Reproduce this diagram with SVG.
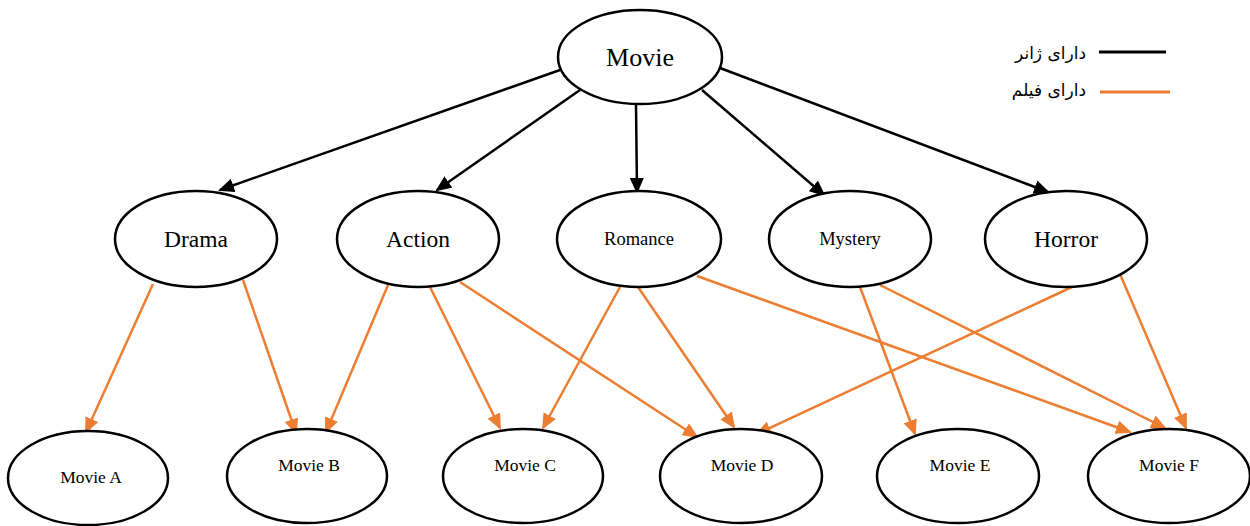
<svg xmlns="http://www.w3.org/2000/svg" width="1250" height="526" viewBox="0 0 1250 526">
<style>
.node ellipse{fill:#fff;stroke:#000;stroke-width:2.5}
.node text{font-family:"Liberation Serif",serif;text-anchor:middle;fill:#000}
.big{font-size:23.5px}
.sm{font-size:18.5px}
.mv{font-size:17.5px}
.blk{stroke:#000;stroke-width:2.5;fill:none}
.org{stroke:#ED7D31;stroke-width:2.5;fill:none}
.leg{font-family:"DejaVu Sans",sans-serif;font-size:17px;text-anchor:end;fill:#000}
</style>
<defs>
<marker id="ab" markerUnits="userSpaceOnUse" markerWidth="16" markerHeight="14" refX="14" refY="7" orient="auto"><path d="M0,0 L16,7 L0,14 Z" fill="#000"/></marker>
<marker id="ao" markerUnits="userSpaceOnUse" markerWidth="16" markerHeight="14" refX="14" refY="7" orient="auto"><path d="M0,0 L16,7 L0,14 Z" fill="#ED7D31"/></marker>
</defs>
<rect width="1250" height="526" fill="#fff"/>
<g id="connectors">
<line class="blk" x1="560" y1="70" x2="220" y2="190" marker-end="url(#ab)"/>
<line class="blk" x1="580" y1="90" x2="437" y2="190" marker-end="url(#ab)"/>
<line class="blk" x1="636" y1="105" x2="637" y2="192" marker-end="url(#ab)"/>
<line class="blk" x1="702" y1="90" x2="824" y2="195" marker-end="url(#ab)"/>
<line class="blk" x1="720" y1="68" x2="1048" y2="192" marker-end="url(#ab)"/>
<line class="org" x1="153" y1="284" x2="86" y2="432" marker-end="url(#ao)"/>
<line class="org" x1="243" y1="280" x2="296" y2="433" marker-end="url(#ao)"/>
<line class="org" x1="388" y1="285" x2="326" y2="432" marker-end="url(#ao)"/>
<line class="org" x1="430" y1="287" x2="500" y2="428" marker-end="url(#ao)"/>
<line class="org" x1="460" y1="282" x2="697" y2="437" marker-end="url(#ao)"/>
<line class="org" x1="620" y1="287" x2="543" y2="428" marker-end="url(#ao)"/>
<line class="org" x1="638" y1="287" x2="734" y2="427" marker-end="url(#ao)"/>
<line class="org" x1="697" y1="276" x2="1130" y2="432" marker-end="url(#ao)"/>
<line class="org" x1="860" y1="287" x2="915" y2="434" marker-end="url(#ao)"/>
<line class="org" x1="880" y1="285" x2="1165" y2="428" marker-end="url(#ao)"/>
<line class="org" x1="1072" y1="287" x2="757" y2="434" marker-end="url(#ao)"/>
<line class="org" x1="1120" y1="274" x2="1186" y2="428" marker-end="url(#ao)"/>
</g>
<g id="legend">
<text class="leg" x="1086" y="59">دارای ژانر</text>
<line x1="1099" y1="52" x2="1166" y2="52" stroke="#000" stroke-width="3"/>
<text class="leg" x="1086" y="96">دارای فیلم</text>
<line x1="1100" y1="92" x2="1170" y2="92" stroke="#ED7D31" stroke-width="3"/>
</g>
<g id="movie" class="node"><ellipse cx="640" cy="57" rx="82" ry="47"/><text x="640" y="66" font-size="26">Movie</text></g>
<g id="drama" class="node"><ellipse cx="196" cy="239" rx="81" ry="48"/><text class="big" x="196" y="247">Drama</text></g>
<g id="action" class="node"><ellipse cx="418" cy="239" rx="81" ry="48"/><text class="big" x="418" y="247">Action</text></g>
<g id="romance" class="node"><ellipse cx="639" cy="239" rx="82" ry="48"/><text class="sm" x="639" y="245">Romance</text></g>
<g id="mystery" class="node"><ellipse cx="850" cy="239" rx="81" ry="48"/><text class="sm" x="850" y="245">Mystery</text></g>
<g id="horror" class="node"><ellipse cx="1066" cy="239" rx="81" ry="48"/><text class="big" x="1066" y="247">Horror</text></g>
<g id="movieA" class="node"><ellipse cx="88" cy="478" rx="80" ry="47"/><text class="mv" x="91" y="483">Movie A</text></g>
<g id="movieB" class="node"><ellipse cx="307" cy="476" rx="80" ry="47"/><text class="mv" x="309" y="471">Movie B</text></g>
<g id="movieC" class="node"><ellipse cx="523" cy="476" rx="80" ry="47"/><text class="mv" x="525" y="471">Movie C</text></g>
<g id="movieD" class="node"><ellipse cx="741" cy="476" rx="81" ry="47"/><text class="mv" x="742" y="471">Movie D</text></g>
<g id="movieE" class="node"><ellipse cx="958" cy="476" rx="81" ry="47"/><text class="mv" x="960" y="471">Movie E</text></g>
<g id="movieF" class="node"><ellipse cx="1169" cy="476" rx="81" ry="47"/><text class="mv" x="1169" y="471">Movie F</text></g>
</svg>
